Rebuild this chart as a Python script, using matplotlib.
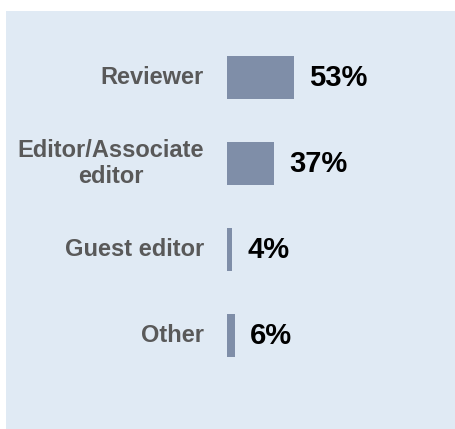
import matplotlib
matplotlib.use("Agg")
import matplotlib.pyplot as plt
from matplotlib.patches import Rectangle

categories = ["Reviewer", "Editor/Associate\neditor", "Guest editor", "Other"]
shares = [53, 37, 4, 6]

W, H = 456, 429
fig = plt.figure(figsize=(W / 100, H / 100), dpi=100)
fig.patch.set_facecolor("white")

# light blue panel behind the chart
fig.patches.append(Rectangle((6 / W, 0), 1 - 6 / W, (H - 11) / H,
                             transform=fig.transFigure, facecolor="#e0eaf4",
                             edgecolor="none", zorder=-1))

# axes placed so that 0% sits at x=227px and rows are 86px apart
ax = fig.add_axes([227 / W, (H - 378.5) / H, 126.6 / W, 344 / H])
ax.set_facecolor("none")
y = list(range(len(categories)))
ax.barh(y, shares, height=0.5, color="#7f8ea8", zorder=2)
ax.set_xlim(0, 100)
ax.set_ylim(3.5, -0.5)
ax.axis("off")

for i, (cat, v) in enumerate(zip(categories, shares)):
    ax.annotate(cat, (0, i), xytext=(-23 * 0.72, 0), textcoords="offset points",
                ha="right", va="center", multialignment="center",
                fontsize=17, fontweight="bold", color="#595959",
                family="Liberation Sans", annotation_clip=False)
    ax.annotate(f"{v}%", (v, i), xytext=(15 * 0.72, 0), textcoords="offset points",
                ha="left", va="center", fontsize=21, fontweight="bold",
                color="black", family="Liberation Sans", annotation_clip=False)

fig.savefig("out.png", dpi=100, facecolor=fig.get_facecolor())
